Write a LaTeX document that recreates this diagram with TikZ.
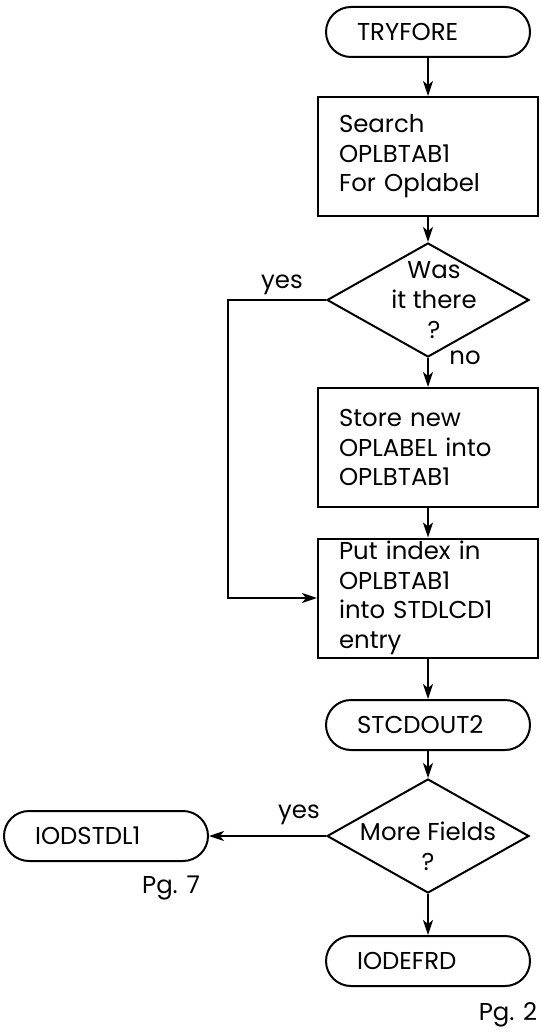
\documentclass[tikz,border=0pt]{standalone}
\usepackage{fontspec}
\setmainfont{Poppins}
\usepackage{tikz}
\usetikzlibrary{arrows.meta,shapes.geometric}

\begin{document}
\begin{tikzpicture}[
    x=0.5pt, y=-0.5pt,
    every node/.style={font=\fontsize{12.2}{14.8}\selectfont},
    term/.style={draw, line width=1pt, rounded corners=12.5pt, minimum height=25pt,
                 text width=71pt, align=left, inner xsep=15.5pt, inner ysep=0pt},   % terminal
    proc/.style={draw, line width=1pt, minimum width=110pt, minimum height=59.5pt,
                 text width=89pt, align=left, inner xsep=10.5pt, inner ysep=1pt},   % traitement
    decision/.style={draw, diamond, line width=1pt, minimum width=101pt,
                 minimum height=57pt, inner sep=0pt},
    dtext/.style={align=center, inner sep=0pt},
    lbl/.style={inner sep=1pt},
    arr/.style={-{Stealth[length=7.5pt,width=5pt,inset=2pt]}, line width=1pt}
  ]
  \useasboundingbox (0,0) rectangle (540,1036);

  % ============ colonne principale ==========================
  \node[term] (tryfore) at (428,32) {TRYFORE};
  \node[proc] (search) at (428,156.5) {Search\\OPLBTAB1\\For Oplabel};
  \node[decision] (was) at (428,300) {};
  \node[dtext, xshift=3pt] (wastxt) at (was) {Was\\it there\\?};
  \node[proc] (store) at (428,447.5) {Store new\\OPLABEL into\\OPLBTAB1};
  \node[proc] (put) at (428,598) {Put index in\\OPLBTAB1\\into STDLCD1\\entry};
  \node[term] (stcdout) at (428,725) {STCDOUT2};
  \node[decision] (more) at (428,836) {};
  \node[dtext, yshift=-5pt] (moretxt) at (more) {More Fields\\?};
  \node[term] (iodefrd) at (428,961) {IODEFRD};

  % ============ sortie a gauche =============================
  \node[term] (iodstdl) at (106,836) {IODSTDL1};
  \coordinate (yesbend) at (228,300);

  % etiquettes
  \node[lbl] (yesa) at (282,285) {yes};
  \node[lbl] (noa) at (465,358) {no};
  \node[lbl] (yesb) at (299,815) {yes};
  \node[lbl] (pgseven) at (171,888) {Pg. 7};
  \node[lbl] (pgtwo) at (508,1015) {Pg. 2};

  % ============ liaisons ====================================
  \draw[arr] (tryfore) -- (search);
  \draw[arr] (search) -- (was.north);
  \draw[arr] (was.south) -- (store);
  \draw[arr] (store) -- (put);
  \draw[arr] (put) -- (stcdout);
  \draw[arr] (stcdout) -- (more.north);
  \draw[arr] (more.south) -- (iodefrd);
  \draw[arr] (more.west) -- (iodstdl);
  \draw[arr] (was.west) -- (yesbend) |- (put.west);

\end{tikzpicture}
\end{document}
